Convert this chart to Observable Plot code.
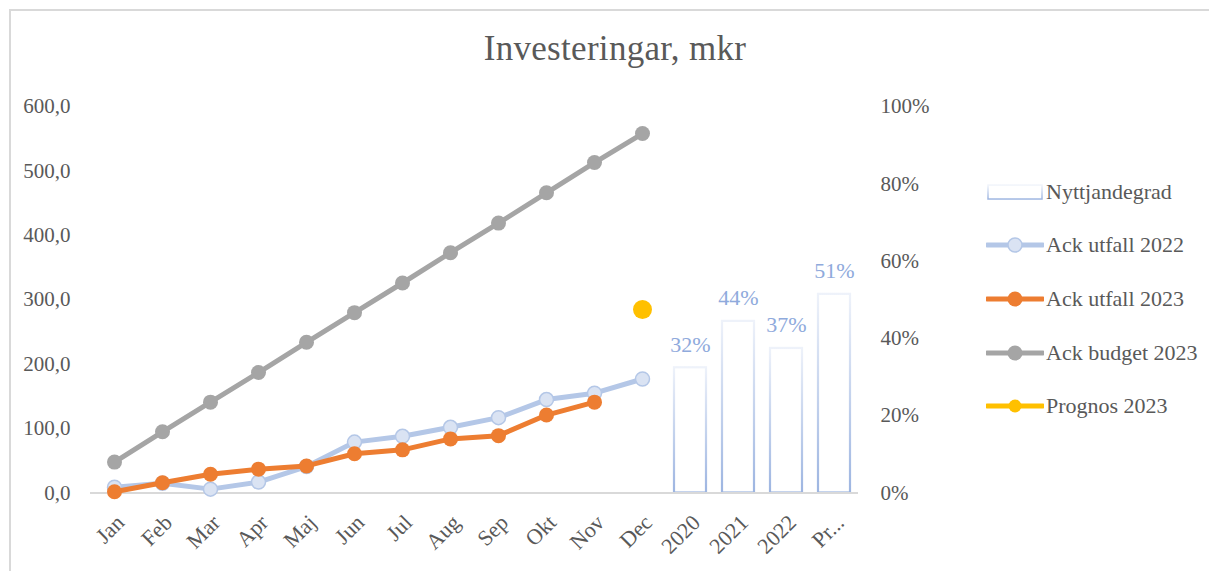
<!DOCTYPE html>
<html><head><meta charset="utf-8">
<script src="https://cdn.jsdelivr.net/npm/d3@7"></script>
<script src="https://cdn.jsdelivr.net/npm/@observablehq/plot@0.6"></script>
<style>
body{margin:0;background:#fff;font-family:"Liberation Serif",serif;}
#wrap{position:relative;width:1209px;height:571px;overflow:hidden;background:#fff;}
#frame{position:absolute;left:9px;top:9px;width:1300px;height:700px;border:2px solid #d9d9d9;box-sizing:border-box;}
#title{position:absolute;left:0;width:1230px;top:29px;text-align:center;font-size:35px;color:#595959;line-height:40px;letter-spacing:0.3px;}
#chart{position:absolute;left:0;top:0;}
#legend{position:absolute;left:986px;top:165px;}
.row{height:53.6px;display:flex;align-items:center;font-size:22px;color:#595959;white-space:nowrap;}
.row svg{margin-right:2px;}
</style></head>
<body>
<div id="wrap">
  <div id="frame"></div>
  <div id="chart"></div>
  <div id="title">Investeringar, mkr</div>
  <div id="legend"></div>
</div>
<script>
// ---- data ----
const months = ["Jan","Feb","Mar","Apr","Maj","Jun","Jul","Aug","Sep","Okt","Nov","Dec"];
const years = ["2020","2021","2022","Pr..."];
const utfall2022 = [9,15,6,17,41,79,88,102,117,145,155,177];
const utfall2023 = [2,16,29,37,42,61,67,84,89,121,141];
const budget2023 = [48,95,141,187,234,280,326,373,419,466,513,558];
const prognos2023 = [285];          // Dec
const nyttjandegrad = [0.324,0.444,0.374,0.514];
const leftTicks = [0,100,200,300,400,500,600];
const rightTicks = [0,0.2,0.4,0.6,0.8,1.0];
const legendNames = ["Nyttjandegrad","Ack utfall 2022","Ack utfall 2023","Ack budget 2023","Prognos 2023"];

// ---- build ----
const PCT = 600; // 100% on right axis == 600 on left axis
const categories = months.concat(years);
const rows = vals => vals.map((v,i)=>({cat: months[i], v}));
const r2022 = rows(utfall2022), r2023 = rows(utfall2023), rBudget = rows(budget2023);
const rProg = prognos2023.map(v=>({cat:"Dec", v}));
const barRows = years.map((c,i)=>({cat:c, p:nyttjandegrad[i]}));

const chart = Plot.plot({
  width:1209, height:571,
  marginLeft:90, marginRight:351, marginTop:106, marginBottom:78.5,
  style:{fontFamily:"'Liberation Serif', serif", fontSize:"21px", color:"#595959", background:"transparent", overflow:"visible"},
  x:{domain:categories, paddingInner:1/3, paddingOuter:1/6, axis:null},
  y:{domain:[0,600], axis:null},
  marks:[
    Plot.axisY({anchor:"left", ticks:leftTicks, tickSize:0, tickPadding:20, label:null,
      tickFormat:d=>d.toFixed(1).replace(".",","), fill:"#595959", fontSize:21}),
    Plot.axisY({anchor:"right", ticks:rightTicks.map(t=>t*PCT), tickSize:0, tickPadding:22, label:null,
      tickFormat:d=>Math.round(d/PCT*100)+"%", fill:"#595959", fontSize:21}),
    Plot.barY(barRows,{x:"cat", y:d=>d.p*PCT, fill:"white", stroke:"url(#barGrad)", strokeWidth:2.2}),
    Plot.text(barRows,{x:"cat", y:d=>d.p*PCT, text:d=>Math.round(d.p*100)+"%", lineAnchor:"bottom", dy:-16, fill:"#8faadc", fontSize:22}),
    Plot.ruleY([0],{stroke:"#d9d9d9", strokeWidth:2}),
    Plot.line(r2022,{x:"cat", y:"v", stroke:"#b4c7e7", strokeWidth:5}),
    Plot.dot(r2022,{x:"cat", y:"v", r:7, fill:"#dae3f3", stroke:"#b4c7e7", strokeWidth:1.5}),
    Plot.line(r2023,{x:"cat", y:"v", stroke:"#ed7d31", strokeWidth:5}),
    Plot.dot(r2023,{x:"cat", y:"v", r:7.5, fill:"#ed7d31"}),
    Plot.line(rBudget,{x:"cat", y:"v", stroke:"#a5a5a5", strokeWidth:5}),
    Plot.dot(rBudget,{x:"cat", y:"v", r:7.5, fill:"#a5a5a5"}),
    Plot.dot(rProg,{x:"cat", y:"v", r:9.5, fill:"#ffc000"}),
    Plot.text(categories,{x:d=>d, y:()=>0, text:d=>d, rotate:-45, textAnchor:"end", dx:6, dy:26, fill:"#595959", fontSize:22})
  ]
});

const defs = d3.select(chart).insert("defs", ":first-child");
const g = defs.append("linearGradient").attr("id","barGrad").attr("x1",0).attr("y1",0).attr("x2",0).attr("y2",1);
g.append("stop").attr("offset","0%").attr("stop-color","#eef2fa");
g.append("stop").attr("offset","100%").attr("stop-color","#9db5e1");
document.getElementById("chart").appendChild(chart);

// ---- legend ----
const legendStyles = [
  {type:"bar"},
  {type:"line", stroke:"#b4c7e7", fill:"#dae3f3", dotStroke:"#b4c7e7", r:7},
  {type:"line", stroke:"#ed7d31", fill:"#ed7d31", r:7.5},
  {type:"line", stroke:"#a5a5a5", fill:"#a5a5a5", r:7.5},
  {type:"line", stroke:"#ffc000", fill:"#ffc000", r:6.5}
];
const legend = d3.select("#legend");
legendNames.forEach((name,i)=>{
  const s = legendStyles[i];
  const row = legend.append("div").attr("class","row");
  const sv = row.append("svg").attr("width",58).attr("height",20);
  if (s.type==="bar"){
    const d2 = sv.append("defs").append("linearGradient").attr("id","legGrad").attr("x1",0).attr("y1",0).attr("x2",0).attr("y2",1);
    d2.append("stop").attr("offset","0%").attr("stop-color","#f2f5fb");
    d2.append("stop").attr("offset","100%").attr("stop-color","#9db5e1");
    sv.append("rect").attr("x",2).attr("y",3).attr("width",54).attr("height",14).attr("fill","white").attr("stroke","url(#legGrad)").attr("stroke-width",1.5);
  } else {
    sv.append("line").attr("x1",1).attr("x2",57).attr("y1",10).attr("y2",10).attr("stroke",s.stroke).attr("stroke-width",5).attr("stroke-linecap","round");
    sv.append("circle").attr("cx",29).attr("cy",10).attr("r",s.r).attr("fill",s.fill).attr("stroke",s.dotStroke||"none").attr("stroke-width",1.5);
  }
  row.append("span").text(name);
});
</script>
</body></html>
